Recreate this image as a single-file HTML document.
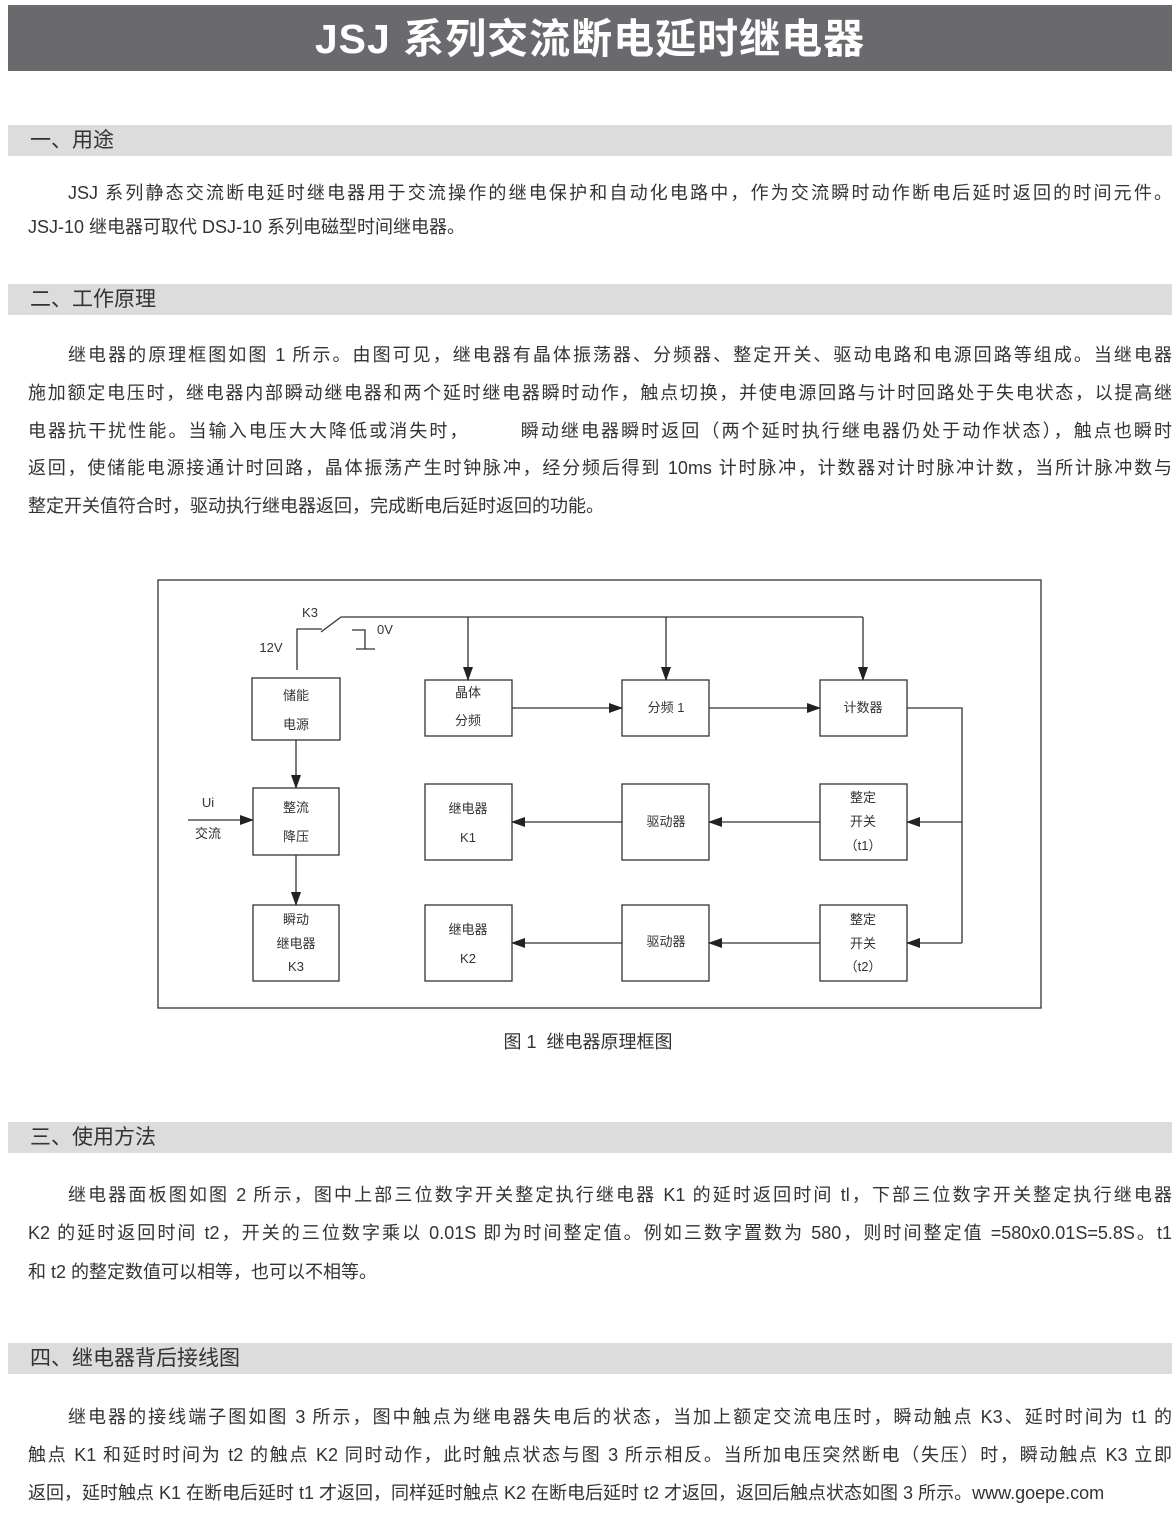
<!DOCTYPE html>
<html><head><meta charset="utf-8"><style>
*{margin:0;padding:0;box-sizing:border-box}
body{width:1176px;height:1513px;background:#fff;position:relative;overflow:hidden;font-family:"Liberation Sans","Noto Sans CJK SC",sans-serif;color:#333}
.title{position:absolute;left:8px;top:5px;width:1164px;height:66px;background:#6a6a6e;color:#fff;font-size:41px;font-weight:bold;text-align:center;line-height:68px;letter-spacing:1px}
.sec{position:absolute;left:8px;width:1164px;height:31px;background:#dcdcdc;font-size:21px;line-height:31px;padding-left:22px;color:#333}
.l{position:absolute;left:28px;width:1144px;font-size:18px;line-height:24px;white-space:nowrap;text-align:justify;text-align-last:justify;color:#333}
.l.i{left:68px;width:1104px}
.l.e{text-align-last:left}
.cap{position:absolute;left:0;width:1176px;text-align:center;font-size:18px;top:1028px}
svg text{font-family:"Liberation Sans","Noto Sans CJK SC",sans-serif;font-size:13px;fill:#333;text-anchor:middle}
</style></head><body>
<div class="title">JSJ 系列交流断电延时继电器</div>

<div class="sec" style="top:125px">一、用途</div>
<div class="l i" style="top:181px">JSJ 系列静态交流断电延时继电器用于交流操作的继电保护和自动化电路中，作为交流瞬时动作断电后延时返回的时间元件。</div>
<div class="l e" style="top:215px">JSJ-10 继电器可取代 DSJ-10 系列电磁型时间继电器。</div>

<div class="sec" style="top:284px">二、工作原理</div>
<div class="l i" style="top:343px">继电器的原理框图如图 1 所示。由图可见，继电器有晶体振荡器、分频器、整定开关、驱动电路和电源回路等组成。当继电器</div>
<div class="l" style="top:381px">施加额定电压时，继电器内部瞬动继电器和两个延时继电器瞬时动作，触点切换，并使电源回路与计时回路处于失电状态，以提高继</div>
<div class="l" style="top:419px">电器抗干扰性能。当输入电压大大降低或消失时，　　　瞬动继电器瞬时返回（两个延时执行继电器仍处于动作状态），触点也瞬时</div>
<div class="l" style="top:456px">返回，使储能电源接通计时回路，晶体振荡产生时钟脉冲，经分频后得到 10ms 计时脉冲，计数器对计时脉冲计数，当所计脉冲数与</div>
<div class="l e" style="top:494px">整定开关值符合时，驱动执行继电器返回，完成断电后延时返回的功能。</div>

<svg style="position:absolute;left:0;top:0" width="1176" height="1513">
<defs><marker id="a" markerWidth="14" markerHeight="10" refX="13" refY="5" orient="auto" markerUnits="userSpaceOnUse"><path d="M0,0 L14,5 L0,10z" fill="#222"/></marker></defs>
<g fill="none" stroke="#333" stroke-width="1.3">
<rect x="158" y="580" width="883" height="428"/>
<rect x="252" y="678" width="88" height="62"/>
<rect x="425" y="680" width="87" height="56"/>
<rect x="622" y="680" width="87" height="56"/>
<rect x="820" y="680" width="87" height="56"/>
<rect x="253" y="788" width="86" height="67"/>
<rect x="425" y="784" width="87" height="76"/>
<rect x="622" y="784" width="87" height="76"/>
<rect x="820" y="784" width="87" height="76"/>
<rect x="253" y="905" width="86" height="76"/>
<rect x="425" y="905" width="87" height="76"/>
<rect x="622" y="905" width="87" height="76"/>
<rect x="820" y="905" width="87" height="76"/>
<polyline points="297,670 297,629 322,629"/>
<line x1="321" y1="632" x2="341" y2="617"/>
<line x1="341" y1="617" x2="863" y2="617"/>
<polyline points="352,630 365,630 365,649"/>
<line x1="356" y1="649" x2="375" y2="649"/>
<line x1="468" y1="617" x2="468" y2="680" marker-end="url(#a)"/>
<line x1="666" y1="617" x2="666" y2="680" marker-end="url(#a)"/>
<line x1="863" y1="617" x2="863" y2="680" marker-end="url(#a)"/>
<line x1="512" y1="708" x2="622" y2="708" marker-end="url(#a)"/>
<line x1="709" y1="708" x2="820" y2="708" marker-end="url(#a)"/>
<polyline points="907,708 962,708 962,943"/>
<line x1="962" y1="822" x2="907" y2="822" marker-end="url(#a)"/>
<line x1="962" y1="943" x2="907" y2="943" marker-end="url(#a)"/>
<line x1="820" y1="822" x2="709" y2="822" marker-end="url(#a)"/>
<line x1="622" y1="822" x2="512" y2="822" marker-end="url(#a)"/>
<line x1="820" y1="943" x2="709" y2="943" marker-end="url(#a)"/>
<line x1="622" y1="943" x2="512" y2="943" marker-end="url(#a)"/>
<line x1="296" y1="740" x2="296" y2="788" marker-end="url(#a)"/>
<line x1="296" y1="855" x2="296" y2="905" marker-end="url(#a)"/>
<line x1="188" y1="820" x2="253" y2="820" marker-end="url(#a)"/>
</g>
<text x="310" y="617">K3</text><text x="271" y="652">12V</text><text x="385" y="634">0V</text>
<text x="208" y="807">Ui</text><text x="208" y="838">交流</text>
<text x="296" y="700">储能</text><text x="296" y="729">电源</text>
<text x="468" y="697">晶体</text><text x="468" y="725">分频</text>
<text x="666" y="712">分频 1</text>
<text x="863" y="712">计数器</text>
<text x="296" y="812">整流</text><text x="296" y="841">降压</text>
<text x="468" y="813">继电器</text><text x="468" y="842">K1</text>
<text x="666" y="826">驱动器</text>
<text x="863" y="802">整定</text><text x="863" y="826">开关</text><text x="863" y="850">（t1）</text>
<text x="296" y="924">瞬动</text><text x="296" y="948">继电器</text><text x="296" y="971">K3</text>
<text x="468" y="934">继电器</text><text x="468" y="963">K2</text>
<text x="666" y="946">驱动器</text>
<text x="863" y="924">整定</text><text x="863" y="948">开关</text><text x="863" y="971">（t2）</text>
</svg>
<div class="cap">图 1&nbsp; 继电器原理框图</div>

<div class="sec" style="top:1122px">三、使用方法</div>
<div class="l i" style="top:1183px">继电器面板图如图 2 所示，图中上部三位数字开关整定执行继电器 K1 的延时返回时间 tl，下部三位数字开关整定执行继电器</div>
<div class="l" style="top:1221px">K2 的延时返回时间 t2，开关的三位数字乘以 0.01S 即为时间整定值。例如三数字置数为 580，则时间整定值 =580x0.01S=5.8S。t1</div>
<div class="l e" style="top:1260px">和 t2 的整定数值可以相等，也可以不相等。</div>

<div class="sec" style="top:1343px">四、继电器背后接线图</div>
<div class="l i" style="top:1405px">继电器的接线端子图如图 3 所示，图中触点为继电器失电后的状态，当加上额定交流电压时，瞬动触点 K3、延时时间为 t1 的</div>
<div class="l" style="top:1443px">触点 K1 和延时时间为 t2 的触点 K2 同时动作，此时触点状态与图 3 所示相反。当所加电压突然断电（失压）时，瞬动触点 K3 立即</div>
<div class="l e" style="top:1481px">返回，延时触点 K1 在断电后延时 t1 才返回，同样延时触点 K2 在断电后延时 t2 才返回，返回后触点状态如图 3 所示。www.goepe.com</div>
</body></html>
